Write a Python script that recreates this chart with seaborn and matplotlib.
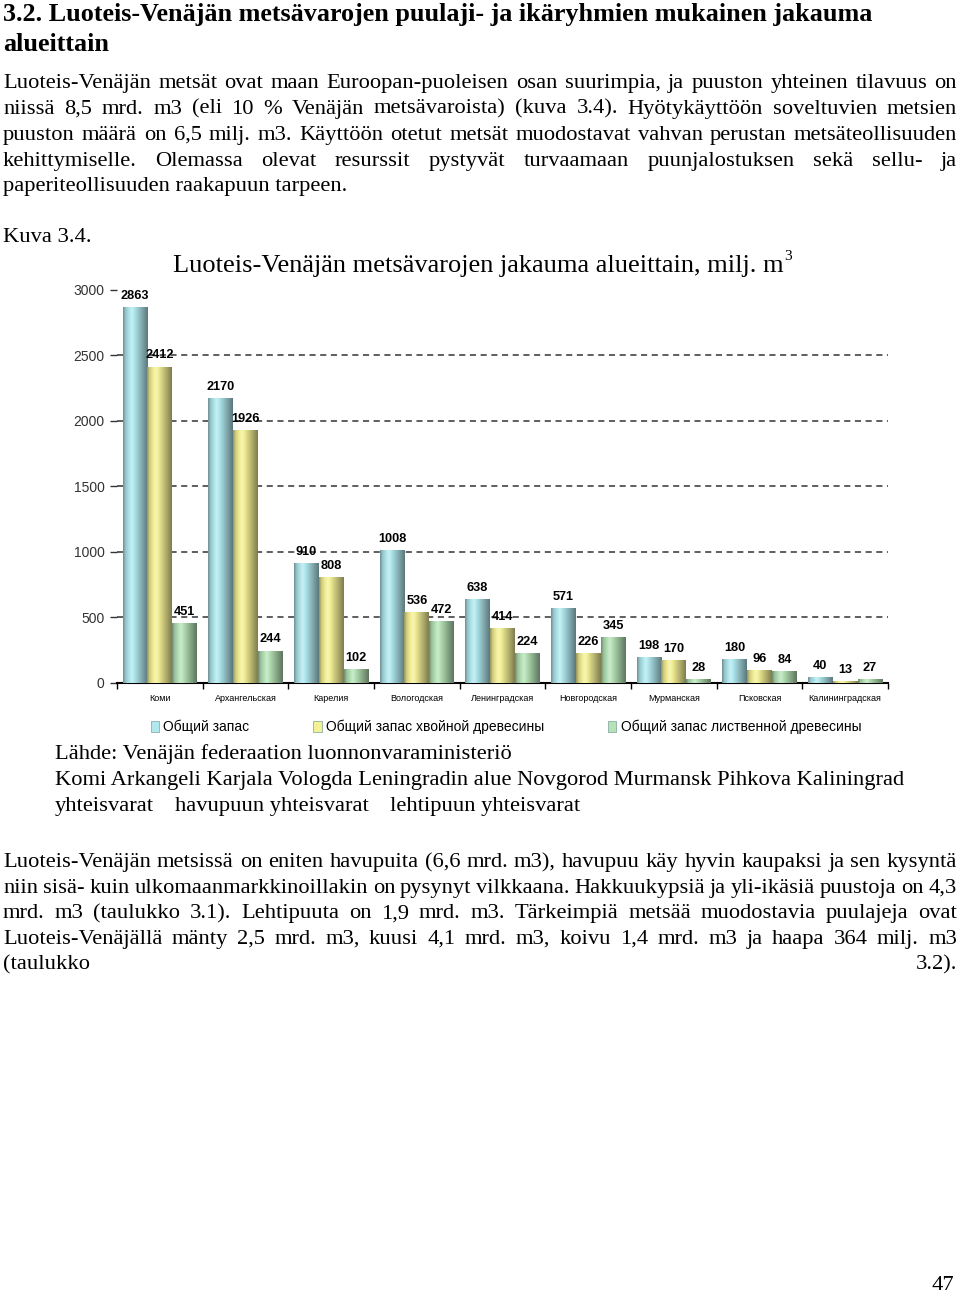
import matplotlib
matplotlib.use("Agg")
import matplotlib.pyplot as plt
from matplotlib.patches import Patch
import numpy as np
import pandas as pd
import seaborn as sns

# chart data (milj. m3)
regions = ["Коми", "Архангельская", "Карелия", "Вологодская", "Ленинградская",
           "Новгородская", "Мурманская", "Псковская", "Калининградская"]
total = [2863, 2170, 910, 1008, 638, 571, 198, 180, 40]
conifer = [2412, 1926, 808, 536, 414, 226, 170, 96, 13]
broadleaf = [451, 244, 102, 472, 224, 345, 28, 84, 27]
series = ["Общий запас", "Общий запас хвойной древесины", "Общий запас лиственной древесины"]
colors = ["#b0e8ee", "#f4f096", "#b6e2b6"]

heading = ["3.2. Luoteis-Venäjän metsävarojen puulaji- ja ikäryhmien mukainen jakauma",
           "alueittain"]
para1 = ["Luoteis-Venäjän metsät ovat maan Euroopan-puoleisen osan suurimpia, ja puuston yhteinen tilavuus on",
         "niissä 8,5 mrd. m3 (eli 10 % Venäjän metsävaroista) (kuva 3.4). Hyötykäyttöön soveltuvien metsien",
         "puuston määrä on 6,5 milj. m3. Käyttöön otetut metsät muodostavat vahvan perustan metsäteollisuuden",
         "kehittymiselle. Olemassa olevat resurssit pystyvät turvaamaan puunjalostuksen sekä sellu- ja",
         "paperiteollisuuden raakapuun tarpeen."]
para2 = ["Luoteis-Venäjän metsissä on eniten havupuita (6,6 mrd. m3), havupuu käy hyvin kaupaksi ja sen kysyntä",
         "niin sisä- kuin ulkomaanmarkkinoillakin on pysynyt vilkkaana. Hakkuukypsiä ja yli-ikäsiä puustoja on 4,3",
         "mrd. m3 (taulukko 3.1). Lehtipuuta on 1,9 mrd. m3. Tärkeimpiä metsää muodostavia puulajeja ovat",
         "Luoteis-Venäjällä mänty 2,5 mrd. m3, kuusi 4,1 mrd. m3, koivu 1,4 mrd. m3 ja haapa 364 milj. m3",
         "(taulukko 3.2)."]
source = ["Lähde: Venäjän federaation luonnonvaraministeriö",
          "Komi Arkangeli Karjala Vologda Leningradin alue Novgorod Murmansk Pihkova Kaliningrad"]
source_legend = ["yhteisvarat", "havupuun yhteisvarat", "lehtipuun yhteisvarat"]

df = pd.DataFrame({
    "region": regions * 3,
    "series": [series[0]] * 9 + [series[1]] * 9 + [series[2]] * 9,
    "value": total + conifer + broadleaf,
})

W, H = 960, 1298
fig = plt.figure(figsize=(W / 100, H / 100), dpi=100)
fig.patch.set_facecolor("white")
renderer = fig.canvas.get_renderer()
serif = "Liberation Serif"
body = 16.2


def fy(py):
    return 1 - py / H


def line_text(x, py, s, size=body, weight="normal", ha="left"):
    # py is the visual middle of the line, text sits on its baseline
    return fig.text(x / W, fy(py + size * 0.38), s, fontsize=size, family=serif,
                    weight=weight, va="baseline", ha=ha)


def justify(line, py, x0=3, x1=957, size=body, fill=True):
    words = line.split(" ")
    if not fill or len(words) == 1:
        line_text(x0, py, line, size)
        return
    items = [line_text(0, py, w, size) for w in words]
    widths = [t.get_window_extent(renderer).width for t in items]
    gap = (x1 - x0 - sum(widths)) / (len(words) - 1)
    x = x0
    for t, w in zip(items, widths):
        t.set_x(x / W)
        x += w + gap


# heading
line_text(3, 14, heading[0], size=18.8, weight="bold")
line_text(3, 44, heading[1], size=18.8, weight="bold")

for i, line in enumerate(para1):
    justify(line, 82 + i * 25.8, fill=(i < len(para1) - 1))

line_text(3, 236, "Kuva 3.4.")

# chart title with raised 3
t = line_text(173, 265, "Luoteis-Venäjän metsävarojen jakauma alueittain, milj. m", size=19)
bb = t.get_window_extent(renderer)
fig.text((bb.x1 + 1) / W, fy(256), "3", fontsize=11, family=serif, va="center")

# chart
ax = fig.add_axes([117 / W, fy(683), (888 - 117) / W, (683 - 290) / H])
sns.barplot(data=df, x="region", y="value", hue="series", palette=colors,
            width=0.87, ax=ax, legend=False, saturation=1, zorder=3)

# cylinder-like shading on each bar
prof = np.linspace(0, 1, 64)
shade = np.interp(prof, [0, 0.1, 0.35, 0.7, 1], [0.62, 0.85, 1.08, 0.78, 0.52])
bars = [p for p in ax.patches if p.get_height() > 0]
for p in bars:
    c = np.array(matplotlib.colors.to_rgb(p.get_facecolor()))
    img = np.clip(c[None, :] * shade[:, None], 0, 1)
    img = np.where(shade[:, None] > 1, c + (1 - c) * (shade[:, None] - 1) * 4, img)
    img = np.clip(img, 0, 1)[None, :, :]
    x0 = p.get_x()
    ax.imshow(img, extent=[x0, x0 + p.get_width(), 0, p.get_height()],
              aspect="auto", zorder=4, interpolation="bilinear")
    p.set_alpha(0)

for cont in ax.containers:
    ax.bar_label(cont, padding=4, fontsize=9.2, weight="bold",
                 family="Liberation Sans", zorder=5)

ax.set_xlim(-0.5, 8.5)
ax.set_ylim(0, 3000)
ax.set_yticks(range(0, 3001, 500))
ax.set_xlabel("")
ax.set_ylabel("")
for s in ["top", "right", "left"]:
    ax.spines[s].set_visible(False)
ax.spines["bottom"].set_linewidth(1.5)
ax.yaxis.grid(True, linestyle=(0, (4, 3)), color="#333333", lw=1.1, zorder=1)
ax.get_ygridlines()[-1].set_visible(False)
ax.tick_params(axis="y", length=5, width=1, color="#333333", labelsize=10,
               labelcolor="#333333", pad=4)
ax.tick_params(axis="x", length=0, labelsize=6.5, pad=8)
ax.set_xticks(np.arange(-0.5, 9, 1), minor=True)
ax.tick_params(axis="x", which="minor", length=4, width=1)
for lab in ax.get_yticklabels() + ax.get_xticklabels():
    lab.set_family("Liberation Sans")

handles = [Patch(facecolor=c, edgecolor="#7aa0a0", lw=0.5) for c in colors]
leg = fig.legend(handles, series, loc="center", bbox_to_anchor=(506 / W, fy(727)),
                 ncol=3, frameon=False, handlelength=0.6, handleheight=0.9,
                 handletextpad=0.3, columnspacing=4.6,
                 prop={"family": "Liberation Sans", "size": 10})

# source block
line_text(55, 753, source[0])
line_text(55, 779, source[1])
for xp, s in zip([55, 175, 390], source_legend):
    line_text(xp, 805, s)

for i, line in enumerate(para2):
    justify(line, 861 + i * 25.6)

line_text(954, 1284, "47", ha="right")

fig.savefig("out.png", dpi=100)
